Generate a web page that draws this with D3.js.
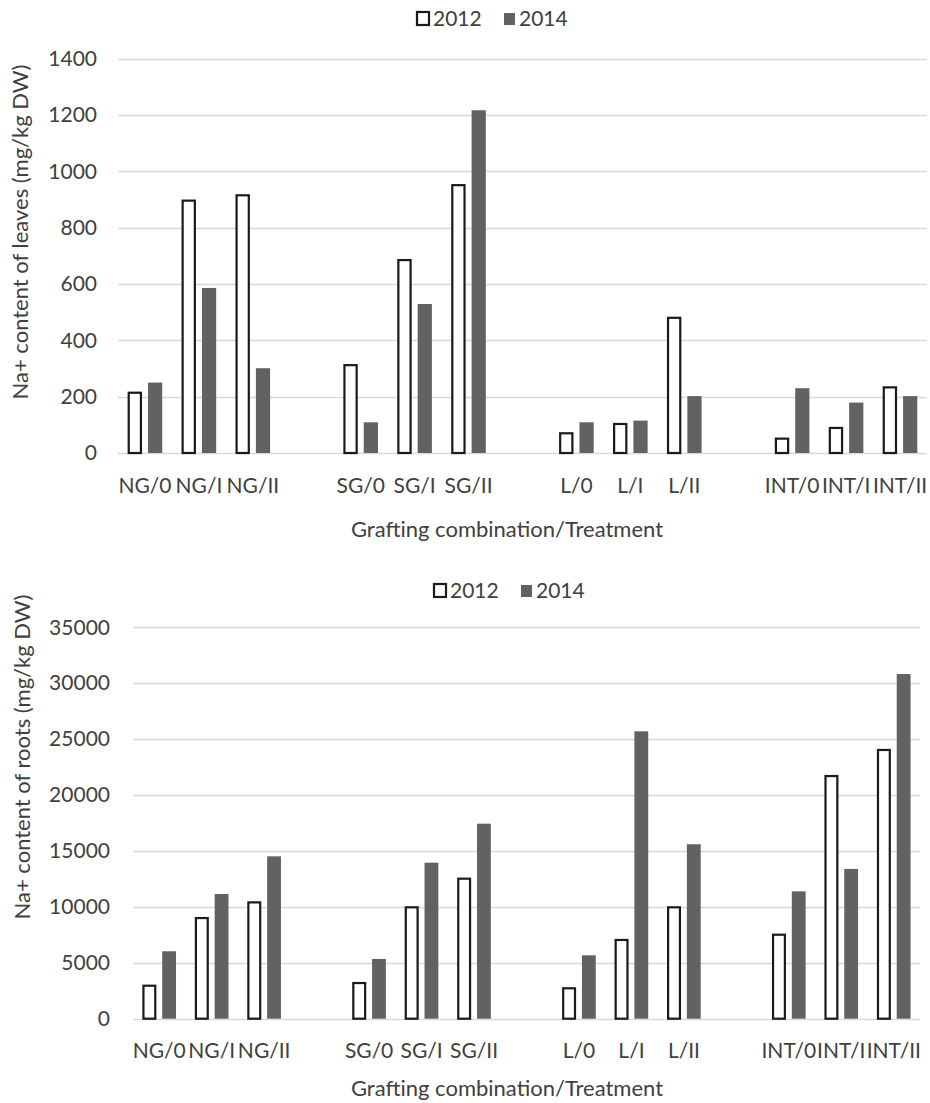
<!DOCTYPE html>
<html>
<head>
<meta charset="utf-8">
<script src="https://cdn.jsdelivr.net/npm/d3@7"></script>
<style>
  body { margin: 0; background: #fff; }
  svg { display: block; }
  text { font-family: Lato, "Open Sans", "Liberation Sans", sans-serif; fill: #404040; }
</style>
</head>
<body>
<svg id="chart" width="930" height="1103"></svg>
<script>
// ---- data ----
const categories = ["NG/0", "NG/I", "NG/II", null, "SG/0", "SG/I", "SG/II", null, "L/0", "L/I", "L/II", null, "INT/0", "INT/I", "INT/II"];
const seriesNames = ["2012", "2014"];
const leaves2012 = [214, 896, 915, null, 312, 685, 951, null, 70, 103, 480, null, 51, 89, 233];
const leaves2014 = [250, 586, 301, null, 109, 529, 1217, null, 109, 115, 202, null, 230, 179, 202];
const roots2012 = [2950, 9000, 10400, null, 3190, 9960, 12520, null, 2720, 7040, 9960, null, 7510, 21700, 24030];
const roots2014 = [6030, 11150, 14520, null, 5340, 13950, 17440, null, 5670, 25700, 15600, null, 11390, 13390, 30820];
const leavesTicks = [0, 200, 400, 600, 800, 1000, 1200, 1400];
const rootsTicks = [0, 5000, 10000, 15000, 20000, 25000, 30000, 35000];
const xTitle = "Grafting combination/Treatment";
const leavesTitle = "Na+ content of leaves (mg/kg DW)";
const rootsTitle = "Na+ content of roots (mg/kg DW)";

const svg = d3.select("#chart");
const darkFill = "#626262";
const gridColor = "#d9d9d9";

function drawPanel(cfg) {
  const g = svg.append("g");
  const x0 = d3.scaleBand().domain(d3.range(categories.length))
    .range([cfg.left, cfg.right]).paddingInner(0.36).paddingOuter(0.18);
  const x1 = d3.scaleBand().domain(seriesNames).range([0, x0.bandwidth()]).paddingInner(0.3);
  const y = d3.scaleLinear().domain([0, d3.max(cfg.ticks)]).range([cfg.bottom, cfg.top]);

  // gridlines
  g.append("g").selectAll("line").data(cfg.ticks).join("line")
    .attr("x1", cfg.left).attr("x2", cfg.right)
    .attr("y1", d => Math.round(y(d)) + 0.5).attr("y2", d => Math.round(y(d)) + 0.5)
    .attr("stroke", gridColor).attr("stroke-width", 1.3);

  // y axis labels
  const yAxis = d3.axisLeft(y).tickValues(cfg.ticks).tickSize(0).tickPadding(0).tickFormat(d3.format("d"));
  const ya = g.append("g").attr("transform", `translate(${cfg.labelRight},0)`).call(yAxis);
  ya.select(".domain").remove();
  ya.selectAll("text").attr("font-size", 21).attr("fill", "#404040")
    .style("font-family", "Lato, 'Open Sans', sans-serif");

  // bars
  const series = [cfg.s2012, cfg.s2014];
  seriesNames.forEach((name, si) => {
    const vals = series[si].map((v, i) => ({ i, v })).filter(d => d.v != null);
    g.append("g").selectAll("rect").data(vals).join("rect")
      .attr("x", d => x0(d.i) + x1(name) + (si === 0 ? 1 : 0))
      .attr("width", x1.bandwidth() - (si === 0 ? 2 : 0))
      .attr("y", d => y(d.v))
      .attr("height", d => y(0) - y(d.v))
      .attr("fill", si === 0 ? "#fff" : darkFill)
      .attr("stroke", si === 0 ? "#1a1a1a" : "none")
      .attr("stroke-width", si === 0 ? 2.2 : 0);
  });

  // x axis labels
  const xAxis = d3.axisBottom(x0).tickSize(0).tickPadding(0)
    .tickFormat(i => categories[i] || "");
  const xa = g.append("g").attr("transform", `translate(0,${cfg.bottom + cfg.labelOffset})`).call(xAxis);
  xa.select(".domain").remove();
  xa.selectAll("text").attr("font-size", 21).attr("fill", "#404040").attr("dy", 0)
    .style("font-family", "Lato, 'Open Sans', sans-serif");

  // x title
  g.append("text").attr("x", cfg.xTitleX).attr("y", cfg.xTitleY)
    .attr("text-anchor", "middle").attr("font-size", 22).text(xTitle);

  // y title
  g.append("text")
    .attr("transform", `translate(${cfg.yTitleX},${cfg.yTitleY}) rotate(-90)`)
    .attr("text-anchor", "middle").attr("font-size", 22).text(cfg.yTitle);

  // legend
  const lg = g.append("g").attr("transform", `translate(${cfg.legendX},${cfg.legendY})`);
  lg.append("rect").attr("x", 1).attr("y", -7).attr("width", 12).attr("height", 13)
    .attr("fill", "#fff").attr("stroke", "#1a1a1a").attr("stroke-width", 2.2);
  lg.append("text").attr("x", 17).attr("y", 0).attr("dy", "0.35em").attr("font-size", 21).text(seriesNames[0]);
  lg.append("rect").attr("x", 88).attr("y", -6).attr("width", 11).attr("height", 12).attr("fill", darkFill);
  lg.append("text").attr("x", 103).attr("y", 0).attr("dy", "0.35em").attr("font-size", 21).text(seriesNames[1]);
}

drawPanel({
  left: 118, right: 927, top: 58.7, bottom: 453,
  ticks: leavesTicks, s2012: leaves2012, s2014: leaves2014,
  labelRight: 97, labelOffset: 40,
  xTitleX: 507, xTitleY: 537,
  yTitle: leavesTitle, yTitleX: 28, yTitleY: 232,
  legendX: 416, legendY: 19
});

drawPanel({
  left: 133, right: 920, top: 627.3, bottom: 1018.7,
  ticks: rootsTicks, s2012: roots2012, s2014: roots2014,
  labelRight: 110, labelOffset: 39,
  xTitleX: 507, xTitleY: 1096,
  yTitle: rootsTitle, yTitleX: 30, yTitleY: 757,
  legendX: 433, legendY: 591
});
</script>
</body>
</html>
